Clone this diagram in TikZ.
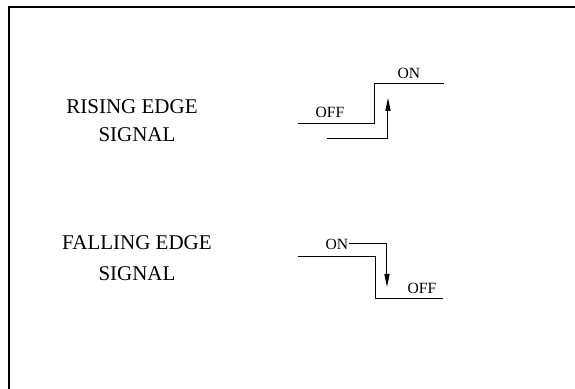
\documentclass[tikz,border=0pt]{standalone}
\usepackage{fontspec}
\setmainfont{Liberation Serif}
\usetikzlibrary{arrows.meta}

\begin{document}
\begin{tikzpicture}[x=0.5pt,y=-0.5pt,>={Triangle[length=6.5pt,width=2.6pt]},
  sig/.style={line width=0.5pt},
  lbl/.style={font=\fontsize{10.5}{13}\selectfont,inner sep=0pt},
  tag/.style={font=\fontsize{7.8}{9}\selectfont,inner sep=0pt}]
\useasboundingbox (0,0) rectangle (575,389);
\draw[line width=0.6pt] (575,7) -- (9,7) -- (9,389);

% rising edge
\node[lbl] (riseA) at (132,107) {RISING EDGE};
\node[lbl] (riseB) at (137,135) {SIGNAL};
\coordinate (r0) at (298,124); \coordinate (r1) at (375,124);
\coordinate (r2) at (375,84);  \coordinate (r3) at (444,84);
\draw[sig] (r0)--(r1)--(r2)--(r3);
\node[tag] (roff) at (330,112) {OFF};
\node[tag] (ron) at (409,73) {ON};
\coordinate (ra) at (327,139); \coordinate (rb) at (388,139);
\coordinate (rc) at (388,98);
\draw[sig,->] (ra)--(rb)--(rc);

% falling edge
\node[lbl] (fallA) at (137,243) {FALLING EDGE};
\node[lbl] (fallB) at (137,274) {SIGNAL};
\coordinate (f0) at (298,257); \coordinate (f1) at (376,257);
\coordinate (f2) at (376,299); \coordinate (f3) at (443,299);
\draw[sig] (f0)--(f1)--(f2)--(f3);
\node[tag] (fon) at (337,244) {ON};
\node[tag] (foff) at (422,288) {OFF};
\coordinate (fa) at (387,244); \coordinate (fb) at (387,287);
\draw[sig,->] (fon.east)--(fa)--(fb);
\end{tikzpicture}
\end{document}
